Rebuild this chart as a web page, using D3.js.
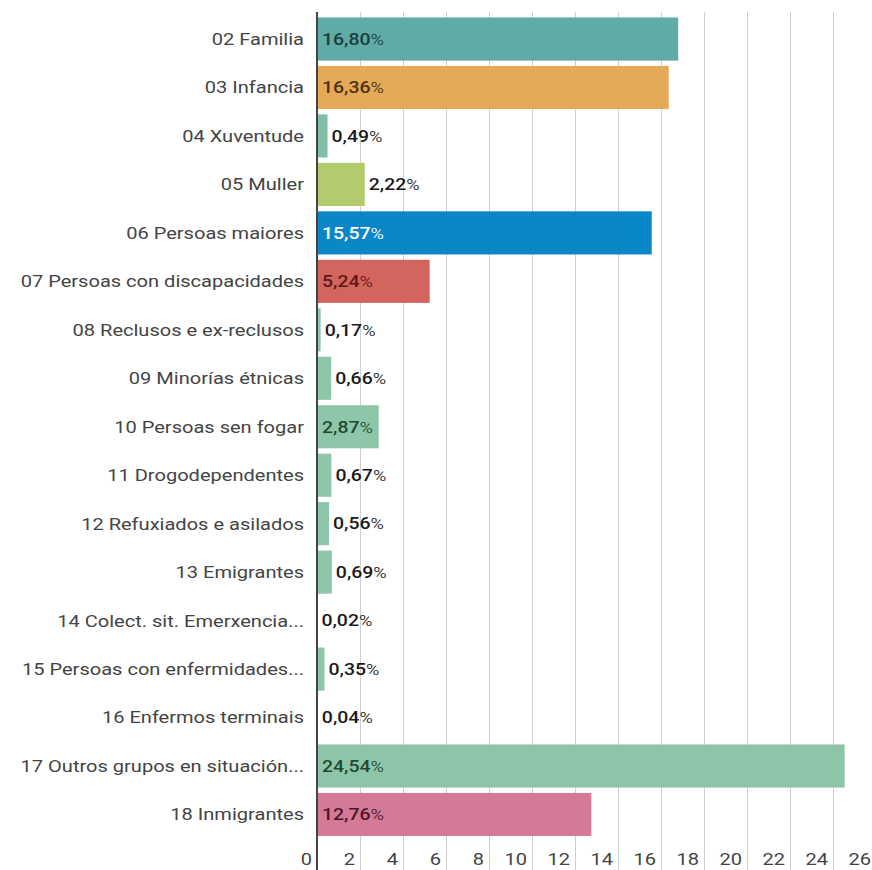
<!DOCTYPE html>
<html>
<head>
<meta charset="utf-8">
<script src="https://cdn.jsdelivr.net/npm/d3@7"></script>
<style>
  html, body { margin: 0; padding: 0; background: #fff; }
  svg { display: block; font-family: Roboto, "Noto Sans", sans-serif; }
</style>
</head>
<body>
<svg id="chart" width="872" height="870"></svg>
<script>
const categories = [
  "02 Familia", "03 Infancia", "04 Xuventude", "05 Muller", "06 Persoas maiores",
  "07 Persoas con discapacidades", "08 Reclusos e ex-reclusos", "09 Minorías étnicas",
  "10 Persoas sen fogar", "11 Drogodependentes", "12 Refuxiados e asilados",
  "13 Emigrantes", "14 Colect. sit. Emerxencia...", "15 Persoas con enfermidades...",
  "16 Enfermos terminais", "17 Outros grupos en situación...", "18 Inmigrantes"
];
const values = [16.80, 16.36, 0.49, 2.22, 15.57, 5.24, 0.17, 0.66, 2.87, 0.67, 0.56, 0.69, 0.02, 0.35, 0.04, 24.54, 12.76];
const barColors = [
  "#5faca7", "#e4aa58", "#80bfa6", "#b2cb6c", "#0b87c8", "#d4645e",
  "#8ec6a9", "#8ec6a9", "#8ec6a9", "#8ec6a9", "#8ec6a9", "#8ec6a9",
  "#8ec6a9", "#8ec6a9", "#8ec6a9", "#8ec5a8", "#d47a97"
];
const insideLabelColors = [
  "#17403c", "#4a3110", "#17403c", "#2f3b10", "#ffffff", "#5a1a16",
  "#1d4a31", "#1d4a31", "#1d4a31", "#1d4a31", "#1d4a31", "#1d4a31",
  "#1d4a31", "#1d4a31", "#1d4a31", "#1d4a31", "#4a1628"
];
const tickValues = [0, 2, 4, 6, 8, 10, 12, 14, 16, 18, 20, 22, 24, 26];

const svg = d3.select("#chart");
const stretch = 1.18;
const x0 = 317, xUnit = 21.5;
const x = d3.scaleLinear().domain([0, 26]).range([x0, x0 + 26 * xUnit]);
const y = d3.scaleBand().domain(categories).range([14.8, 838.7]).paddingInner(0.11).paddingOuter(0.055);

const gridTop = 12, gridBottom = 870;

// grid lines
svg.append("g").selectAll("line")
  .data(tickValues.filter(d => d > 0))
  .join("line")
  .attr("x1", d => Math.round(x(d)) + 0.5).attr("x2", d => Math.round(x(d)) + 0.5)
  .attr("y1", gridTop).attr("y2", gridBottom)
  .attr("stroke", "#cfcfcf").attr("stroke-width", 1);

// tick labels
svg.append("g").selectAll("text")
  .data(tickValues)
  .join("text")
  .attr("transform", d => `translate(${x(d) - 5},865) scale(${stretch},1)`)
  .attr("text-anchor", "end")
  .attr("font-size", 17)
  .attr("fill", "#444")
  .text(d => d);

// bars
const fmt = v => v.toFixed(2).replace(".", ",");
const rows = svg.append("g").selectAll("g")
  .data(categories.map((c, i) => ({ c, v: values[i], i })))
  .join("g");

rows.append("rect")
  .attr("x", x(0))
  .attr("y", d => y(d.c))
  .attr("width", d => x(d.v) - x(0))
  .attr("height", y.bandwidth())
  .attr("fill", d => barColors[d.i]);

// category labels
rows.append("text")
  .attr("transform", d => `translate(304,${y(d.c) + y.bandwidth() / 2}) scale(${stretch},1)`)
  .attr("dy", "0.35em")
  .attr("text-anchor", "end")
  .attr("font-size", 17)
  .attr("fill", "#444")
  .text(d => d.c);

// value labels
rows.each(function(d) {
  const g = d3.select(this);
  const t = g.append("text")
    .attr("dy", "0.35em")
    .attr("font-size", 16.5);
  t.append("tspan").attr("font-weight", 500).text(fmt(d.v));
  t.append("tspan").attr("font-weight", 400).attr("font-size", 15.5).attr("fill-opacity", 0.9).text("%");
  const w = t.node().getComputedTextLength() * stretch;
  const barW = x(d.v) - x(0);
  const cy = y(d.c) + y.bandwidth() / 2;
  if (w + 10 <= barW) {
    t.attr("transform", `translate(${x(0) + 5},${cy}) scale(${stretch},1)`).attr("fill", insideLabelColors[d.i]);
  } else {
    t.attr("transform", `translate(${x(d.v) + 4},${cy}) scale(${stretch},1)`).attr("fill", "#1a1a1a");
  }
});

// zero axis line
svg.append("line")
  .attr("x1", x(0)).attr("x2", x(0))
  .attr("y1", gridTop).attr("y2", gridBottom)
  .attr("stroke", "#444").attr("stroke-width", 2);
</script>
</body>
</html>
